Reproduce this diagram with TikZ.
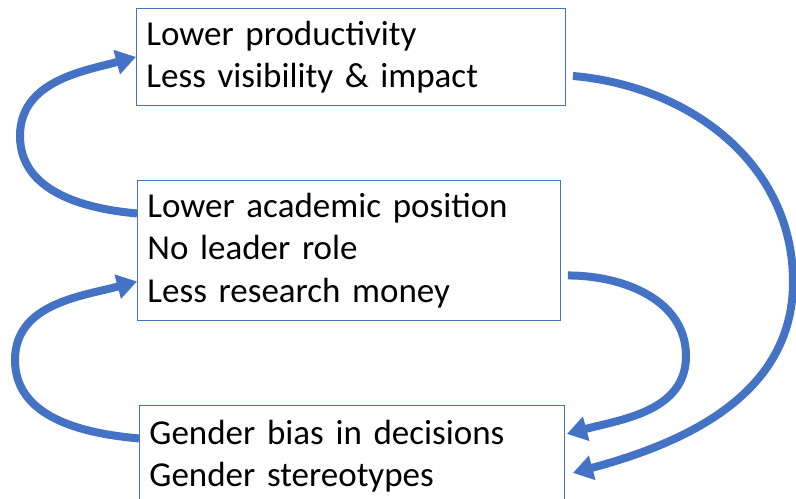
\documentclass[tikz,border=0pt]{standalone}
\usepackage{fontspec}
\setmainfont{Carlito}
\usepackage{tikz}
\usetikzlibrary{arrows.meta}
\definecolor{boxblue}{HTML}{4472C4}

\begin{document}
\begin{tikzpicture}[x=1bp,y=1bp]
        \tikzstyle{every node}+=[inner xsep=10bp, inner ysep=0pt]
        \tikzstyle{stage}=[draw=boxblue, line width=0.9bp, anchor=north west, align=left, font=\fontsize{35bp}{42.5bp}\selectfont]
        \tikzstyle{feedback}=[draw=boxblue, line width=8bp, -{Triangle[length=20bp,width=24bp]}]
        \useasboundingbox (0,0) rectangle (796,-499);
        \node [stage, text width=409bp, minimum height=97bp] (output) at (136,-8) {Lower productivity\\Less visibility \& impact};
        \node [stage, text width=403bp, minimum height=140bp] (career) at (137,-180) {Lower academic position\\No leader role\\Less research money};
        \node [stage, text width=405bp, minimum height=101bp] (bias) at (139,-405) {Gender bias in decisions\\Gender stereotypes};
        \coordinate (c1) at (20,-136);
        \coordinate (c2) at (15,-360);
        \coordinate (c3) at (686,-356);
        \coordinate (c4) at (793,-282);
        \draw [feedback] ([yshift=37bp]career.west) to[out=175,in=-90] (c1) to[out=90,in=195] (output.west);
        \draw [feedback] ([yshift=17.5bp]bias.west) to[out=175,in=-90] (c2) to[out=90,in=195] ([yshift=-31bp]career.west);
        \draw [feedback] ([xshift=7bp,yshift=-25bp]career.east) to[out=0,in=90] (c3) to[out=-90,in=15] ([xshift=2bp,yshift=22bp]bias.east);
        \draw [feedback] ([xshift=7bp,yshift=-19bp]output.east) to[out=-5,in=90] (c4) to[out=-90,in=15] ([xshift=8bp,yshift=-17bp]bias.east);
\end{tikzpicture}
\end{document}
